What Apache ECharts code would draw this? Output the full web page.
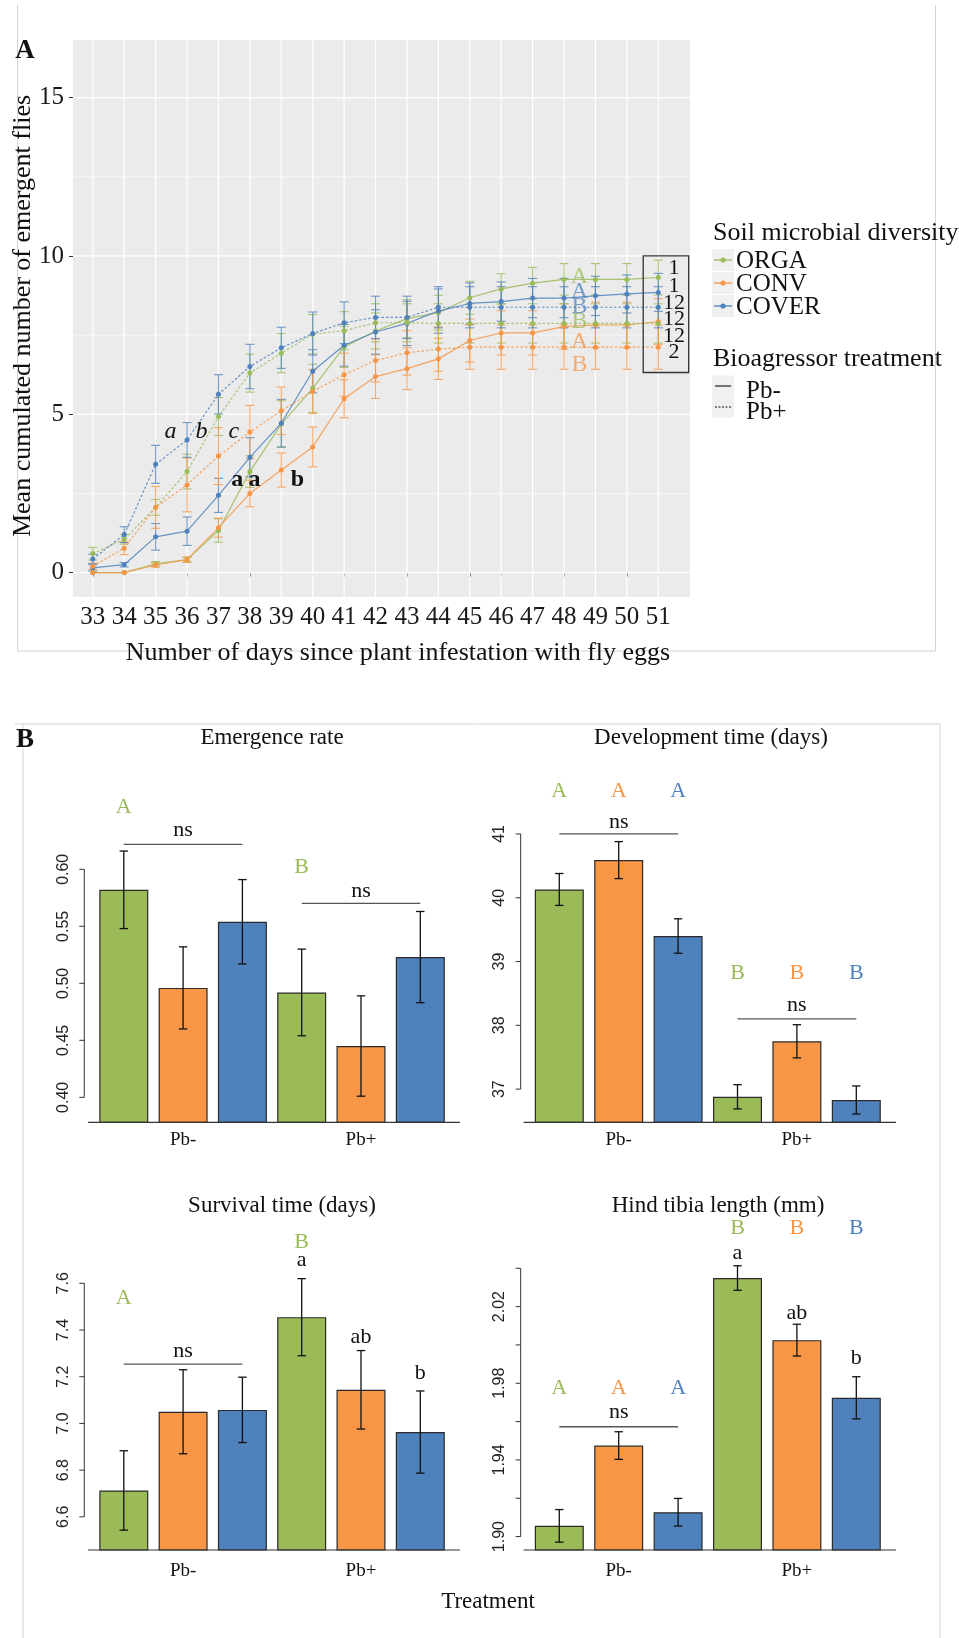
<!DOCTYPE html>
<html><head><meta charset="utf-8">
<script src="https://cdn.jsdelivr.net/npm/echarts@6/dist/echarts.min.js"></script>
<style>html,body{margin:0;padding:0;background:#fff}#c{width:959px;height:1638px}</style>
</head><body><div id="c"></div>
<script>
// ---------------- DATA: panel A (cumulated emergence) ----------------
const days = [33,34,35,36,37,38,39,40,41,42,43,44,45,46,47,48,49,50,51];
const orgaPbMinus  = [0,0,0.28,0.41,1.33,3.19,4.69,5.82,7.13,7.63,8.02,8.21,8.68,8.96,9.14,9.26,9.26,9.26,9.32];
const convPbMinus  = [0,0,0.24,0.41,1.42,2.50,3.24,3.97,5.49,6.19,6.44,6.75,7.33,7.57,7.57,7.77,7.82,7.82,7.93];
const coverPbMinus = [0.15,0.25,1.13,1.31,2.44,3.64,4.72,6.36,7.18,7.60,7.87,8.26,8.50,8.56,8.67,8.67,8.74,8.80,8.85];
const orgaPbPlus   = [0.60,1.05,2.06,3.19,4.93,6.30,6.93,7.53,7.64,7.89,7.89,7.87,7.87,7.87,7.87,7.87,7.87,7.87,7.87];
const convPbPlus   = [0.20,0.77,2.06,2.77,3.68,4.44,5.11,5.72,6.25,6.70,6.94,7.06,7.12,7.12,7.12,7.12,7.12,7.12,7.12];
const coverPbPlus  = [0.43,1.20,3.42,4.19,5.63,6.51,7.10,7.55,7.89,8.06,8.06,8.38,8.38,8.38,8.38,8.38,8.38,8.38,8.38];
const orgaPbMinusSE  = [0,0,0.07,0.07,0.37,0.50,0.74,0.76,0.65,0.57,0.60,0.55,0.52,0.48,0.50,0.50,0.50,0.50,0.55];
const convPbMinusSE  = [0,0,0.07,0.09,0.30,0.42,0.54,0.63,0.60,0.69,0.66,0.65,0.68,0.70,0.70,0.72,0.72,0.72,0.72];
const coverPbMinusSE = [0.10,0.07,0.42,0.45,0.54,0.62,0.75,0.68,0.66,0.70,0.70,0.70,0.65,0.62,0.62,0.62,0.62,0.60,0.60];
const orgaPbPlusSE   = [0.20,0.15,0.25,0.55,0.60,0.60,0.62,0.62,0.60,0.60,0.60,0.62,0.62,0.62,0.62,0.62,0.62,0.62,0.62];
const convPbPlusSE   = [0.10,0.20,0.66,0.85,0.90,0.84,0.75,0.70,0.68,0.68,0.70,0.70,0.70,0.70,0.70,0.70,0.70,0.70,0.70];
const coverPbPlusSE  = [0.15,0.25,0.60,0.55,0.62,0.70,0.65,0.68,0.66,0.67,0.67,0.65,0.65,0.65,0.65,0.65,0.65,0.65,0.65];
const yTicksA = [0,5,10,15];
const yMinorA = [2.5,7.5,12.5];

// panel A annotations
const annoLetters = ['a','b','c','a','a','b'];
const annoX = [35.47,36.46,37.49,37.6,38.15,39.51];
const annoY = [4.46,4.46,4.46,2.94,2.94,2.94];
const groupLetters = ['A','A','B','B','A','B'];
const groupLetterSoil = ['orga','cover','cover','orga','conv','conv'];
const groupLetterY = [9.35,8.87,8.40,7.93,7.30,6.58];
const boxLabels = ['1','1','12','12','12','2'];
const boxLabelY = [9.61,9.05,8.50,8.00,7.47,6.97];

// ---------------- DATA: panel B (bar plots) ----------------
const groups = ['Pb-','Pb+'];
const soils = ['orga','conv','cover','orga','conv','cover'];   // bar order
const emergMean = [0.582,0.496,0.554,0.492,0.445,0.523];
const emergSE   = [0.034,0.036,0.037,0.038,0.044,0.040];
const devMean   = [40.13,40.59,39.40,36.88,37.75,36.83];
const devSE     = [0.25,0.29,0.27,0.19,0.26,0.22];
const survMean  = [6.713,7.050,7.058,7.455,7.144,6.963];
const survSE    = [0.170,0.180,0.140,0.165,0.168,0.176];
const tibiaMean = [1.9056,1.9475,1.9127,2.0349,2.0025,1.9724];
const tibiaSE   = [0.0085,0.0072,0.0072,0.0064,0.0083,0.0110];
const emergTicks = [0.40,0.45,0.50,0.55,0.60];
const devTicks   = [37,38,39,40,41];
const survTicks  = [6.6,6.8,7.0,7.2,7.4,7.6];
const tibiaTicks = [1.90,1.92,1.94,1.96,1.98,2.00,2.02,2.04];
const tibiaLabels = [1.90,1.94,1.98,2.02];
// annotations: [text, barIndex, value, colour key]
const emergAnno = [['A',0,0.6544,'orga'],['ns',1,0.6345,'k'],['B',3,0.6018,'orga'],['ns',4,0.5804,'k']];
const emergNs = [[0,2,0.6219],[3,5,0.5702]];
const devAnno = [['A',0,41.67,'orga'],['A',1,41.67,'conv'],['A',2,41.67,'cover'],['ns',1,41.18,'k'],
                 ['B',3,38.82,'orga'],['B',4,38.82,'conv'],['B',5,38.82,'cover'],['ns',4,38.32,'k']];
const devNs = [[0,2,41.0],[3,5,38.10]];
const survAnno = [['A',0,7.536,'orga'],['ns',1,7.31,'k'],['B',3,7.774,'orga'],['a',3,7.70,'k'],['ab',4,7.371,'k'],['b',5,7.215,'k']];
const survNs = [[0,2,7.254]];
const tibiaAnno = [['B',3,2.0609,'orga'],['B',4,2.0609,'conv'],['B',5,2.0609,'cover'],['a',3,2.0481,'k'],['ab',4,2.0165,'k'],['b',5,1.9933,'k'],
                   ['A',0,1.9773,'orga'],['A',1,1.9773,'conv'],['A',2,1.9773,'cover'],['ns',1,1.9651,'k']];
const tibiaNs = [[0,2,1.9573]];

// ---------------- STYLE ----------------
const COL = {orga:'#9BBB59', conv:'#F79646', cover:'#4F81BD', k:'#111111'};
const SERIF = "'Liberation Serif','Times New Roman',serif";
const SANS = "'Liberation Sans',Arial,sans-serif";

const chart = echarts.init(document.getElementById('c'), null, {renderer:'canvas'});

const grids = [
  {left:73, top:40, width:617, height:557, show:true, backgroundColor:'#EBEBEB', borderWidth:0},
  {left:94.15, top:846.5, width:355.8, height:275.8},
  {left:529.6, top:821.2, width:356.4, height:301.1},
  {left:94.15, top:1259.95, width:355.8, height:290.05},
  {left:529.6, top:1249.1, width:356.4, height:300.9}
];

const xAxes = [{
  gridIndex:0, type:'value', min:32.37, max:52.01,
  axisLine:{show:false}, splitLine:{show:false},
  axisTick:{show:true, customValues:days, length:4, lineStyle:{color:'#333', width:1}},
  axisLabel:{customValues:days, fontFamily:SERIF, fontSize:25, color:'#1a1a1a', margin:8}
}];
const yAxes = [{
  gridIndex:0, type:'value', min:-0.77, max:16.82,
  axisLine:{show:false}, splitLine:{show:false},
  axisTick:{show:true, customValues:yTicksA, length:4, lineStyle:{color:'#333', width:1}},
  axisLabel:{customValues:yTicksA, fontFamily:SERIF, fontSize:25, color:'#1a1a1a', margin:9}
}];

const panelsB = [
  {mean:emergMean, se:emergSE, min:0.3781, max:0.62, ticks:emergTicks, labels:emergTicks, dec:2, off:9.85, lm:8, anno:emergAnno, ns:emergNs},
  {mean:devMean, se:devSE, min:36.48, max:41.2, ticks:devTicks, labels:devTicks, dec:0, off:8.9, lm:8, anno:devAnno, ns:devNs},
  {mean:survMean, se:survSE, min:6.458, max:7.7, ticks:survTicks, labels:survTicks, dec:1, off:9.85, lm:12, anno:survAnno, ns:survNs},
  {mean:tibiaMean, se:tibiaSE, min:1.893, max:2.05, ticks:tibiaTicks, labels:tibiaLabels, dec:2, off:8.9, lm:12, anno:tibiaAnno, ns:tibiaNs}
];

panelsB.forEach((p,k)=>{
  const gi = k+1;
  xAxes.push({gridIndex:gi, type:'value', min:-0.5, max:5.5,
    axisLine:{show:false}, axisTick:{show:false}, splitLine:{show:false},
    axisLabel:{customValues:[1,4], formatter:(v)=> v<2.5 ? groups[0] : groups[1],
      fontFamily:SERIF, fontSize:19, color:'#111', margin:p.lm}});
  yAxes.push({gridIndex:gi, type:'value', min:p.min, max:p.max, offset:p.off,
    axisLine:{show:false}, splitLine:{show:false}, axisTick:{show:false},
    axisLabel:{customValues:p.labels, rotate:90, formatter:(v)=>Number(v).toFixed(p.dec),
      fontFamily:SANS, fontSize:16, color:'#222', margin:13}});
});

const series = [];

// gridlines panel A
series.push({type:'custom', xAxisIndex:0, yAxisIndex:0, z:1, silent:true,
  data: days.map(d=>[d, 0]),
  renderItem(params, api){
    const cs = params.coordSys; const x = api.coord([api.value(0), 0])[0];
    return {type:'line', shape:{x1:x, y1:cs.y, x2:x, y2:cs.y+cs.height}, style:{stroke:'#ffffff', lineWidth:1.2}};
  }});
series.push({type:'custom', xAxisIndex:0, yAxisIndex:0, z:1, silent:true,
  data: yTicksA.map(v=>[33, v]).concat(yMinorA.map(v=>[33, v])),
  renderItem(params, api){
    const cs = params.coordSys; const y = api.coord([33, api.value(1)])[1];
    const major = params.dataIndex < yTicksA.length;
    return {type:'line', shape:{x1:cs.x, y1:y, x2:cs.x+cs.width, y2:y}, style:{stroke:'#ffffff', lineWidth: major?1.2:0.6}};
  }});

// panel A series
const lineDefs = [
  ['ORGA Pb-', orgaPbMinus, orgaPbMinusSE, 'orga', 'solid'],
  ['CONV Pb-', convPbMinus, convPbMinusSE, 'conv', 'solid'],
  ['COVER Pb-', coverPbMinus, coverPbMinusSE, 'cover', 'solid'],
  ['ORGA Pb+', orgaPbPlus, orgaPbPlusSE, 'orga', 'dash'],
  ['CONV Pb+', convPbPlus, convPbPlusSE, 'conv', 'dash'],
  ['COVER Pb+', coverPbPlus, coverPbPlusSE, 'cover', 'dash']
];
lineDefs.forEach(([name, m, se, soil, lt])=>{
  const color = COL[soil];
  series.push({type:'custom', name:name+' se', xAxisIndex:0, yAxisIndex:0, z:3, silent:true,
    data: days.map((d,i)=>[d, m[i]-se[i], m[i]+se[i]]),
    renderItem(params, api){
      const x = api.value(0);
      const p1 = api.coord([x, api.value(1)]), p2 = api.coord([x, api.value(2)]);
      if (Math.abs(p1[1]-p2[1]) < 0.5) return null;
      const w = 4.5, st = {stroke:color, lineWidth:1.1, opacity:0.8};
      return {type:'group', children:[
        {type:'line', shape:{x1:p1[0], y1:p1[1], x2:p2[0], y2:p2[1]}, style:st},
        {type:'line', shape:{x1:p1[0]-w, y1:p1[1], x2:p1[0]+w, y2:p1[1]}, style:st},
        {type:'line', shape:{x1:p2[0]-w, y1:p2[1], x2:p2[0]+w, y2:p2[1]}, style:st}
      ]};
    }});
  series.push({type:'line', name, xAxisIndex:0, yAxisIndex:0, z:4,
    data: days.map((d,i)=>[d, m[i]]), symbol:'circle', symbolSize:5, showSymbol:true,
    lineStyle:{color, width:1.2, opacity:0.85, type: lt==='solid' ? 'solid' : [2.5,2]},
    itemStyle:{color, borderWidth:0}});
});

// panel A annotations
function textSeries(xi, yi, xs, ys, texts, colors, sizes, styles, weights, opac){
  return {type:'custom', xAxisIndex:xi, yAxisIndex:yi, z:6, silent:true,
    data: xs.map((x,i)=>[x, ys[i]]),
    renderItem(params, api){
      const i = params.dataIndex; const p = api.coord([api.value(0), api.value(1)]);
      return {type:'text', x:p[0], y:p[1], style:{text:texts[i], fill:colors[i], fontFamily:SERIF,
        fontSize:sizes[i], fontStyle:styles[i], fontWeight:weights[i], align:'center', verticalAlign:'middle', opacity:opac}};
    }};
}
series.push(textSeries(0,0, annoX, annoY, annoLetters, annoLetters.map(()=> '#111'),
  annoLetters.map(()=>24), annoLetters.map((t,i)=> i<3?'italic':'normal'), annoLetters.map((t,i)=> i<3?'normal':'bold'), 1));
series.push(textSeries(0,0, groupLetters.map(()=>48.49), groupLetterY, groupLetters, groupLetterSoil.map(s=>COL[s]),
  groupLetters.map(()=>24), groupLetters.map(()=>'normal'), groupLetters.map(()=>'normal'), 0.75));
series.push(textSeries(0,0, boxLabels.map(()=>51.5), boxLabelY, boxLabels, boxLabels.map(()=>'#111'),
  boxLabels.map(()=>22), boxLabels.map(()=>'normal'), boxLabels.map(()=>'normal'), 1));
// box around the labels
series.push({type:'custom', xAxisIndex:0, yAxisIndex:0, z:5, silent:true,
  data:[[50.52, 10.0, 52.0, 6.32]],
  renderItem(params, api){
    const a = api.coord([api.value(0), api.value(1)]), b = api.coord([api.value(2), api.value(3)]);
    return {type:'rect', shape:{x:a[0], y:a[1], width:b[0]-a[0]-1, height:b[1]-a[1]}, style:{fill:'none', stroke:'#333', lineWidth:1.3}};
  }});

// panel B series
panelsB.forEach((p,k)=>{
  const gi = k+1;
  // bars
  series.push({type:'bar', xAxisIndex:gi, yAxisIndex:gi, z:2, barWidth:49,
    data: p.mean.map((v,i)=>({value:[i, v], itemStyle:{color:COL[soils[i]]}})),
    itemStyle:{borderColor:'#2a2a2a', borderWidth:1.2}});
  // axis line (first to last tick), ticks and baseline
  series.push({type:'custom', xAxisIndex:gi, yAxisIndex:gi, z:3, silent:true,
    data:[[0, p.ticks[0]]],
    renderItem(params, api){
      const cs = params.coordSys; const ax = cs.x - p.off;
      const y1 = api.coord([0, p.ticks[0]])[1], y2 = api.coord([0, p.ticks[p.ticks.length-1]])[1];
      const yb = cs.y + cs.height;
      const st = {stroke:'#333', lineWidth:1};
      const children = [
        {type:'line', shape:{x1:ax, y1:y1, x2:ax, y2:y2}, style:st},
        {type:'line', shape:{x1:cs.x-6, y1:yb, x2:cs.x+cs.width+10, y2:yb}, style:{stroke:'#333', lineWidth:1.2}}
      ];
      p.ticks.forEach(t=>{
        const y = api.coord([0, t])[1];
        children.push({type:'line', shape:{x1:ax-5, y1:y, x2:ax, y2:y}, style:st});
      });
      return {type:'group', children};
    }});
  // error bars
  series.push({type:'custom', xAxisIndex:gi, yAxisIndex:gi, z:4, silent:true,
    data: p.mean.map((v,i)=>[i, v-p.se[i], v+p.se[i]]),
    renderItem(params, api){
      const x = api.value(0);
      const a = api.coord([x, api.value(1)]), b = api.coord([x, api.value(2)]);
      const w = 4.2, st = {stroke:'#111', lineWidth:1.3};
      return {type:'group', children:[
        {type:'line', shape:{x1:a[0], y1:a[1], x2:b[0], y2:b[1]}, style:st},
        {type:'line', shape:{x1:a[0]-w, y1:a[1], x2:a[0]+w, y2:a[1]}, style:st},
        {type:'line', shape:{x1:b[0]-w, y1:b[1], x2:b[0]+w, y2:b[1]}, style:st}
      ]};
    }});
  // ns lines
  series.push({type:'custom', xAxisIndex:gi, yAxisIndex:gi, z:4, silent:true,
    data: p.ns.map(r=>[r[0], r[2], r[1]]),
    renderItem(params, api){
      const a = api.coord([api.value(0), api.value(1)]), b = api.coord([api.value(2), api.value(1)]);
      return {type:'line', shape:{x1:a[0], y1:a[1], x2:b[0], y2:b[1]}, style:{stroke:'#555', lineWidth:1.3}};
    }});
  // annotation text
  series.push(textSeries(gi, gi, p.anno.map(r=>r[1]), p.anno.map(r=>r[2]), p.anno.map(r=>r[0]),
    p.anno.map(r=>COL[r[3]]), p.anno.map(()=>22), p.anno.map(()=>'normal'), p.anno.map(()=>'normal'), 1));
});

// ---------------- graphics: titles, legend, frames ----------------
const FR = '#D4D4D4';
function T(x, y, text, size, opts){
  return Object.assign({type:'text', x, y, silent:true, style:Object.assign({text, fill:'#111', fontFamily:SERIF, fontSize:size,
    align:'center', verticalAlign:'middle'}, opts||{})});
}
function L(x1,y1,x2,y2,stroke,w,dash){
  return {type:'line', silent:true, shape:{x1,y1,x2,y2}, style:{stroke, lineWidth:w, lineDash:dash||null}};
}
const graphics = [
  // frames
  L(17.5, 5, 17.5, 651, FR, 1), L(935.5, 5, 935.5, 651, FR, 1), L(17.5, 651, 935.5, 651, FR, 1),
  L(15, 724, 940, 724, FR, 1), L(23, 724, 23, 1638, FR, 1), L(940, 724, 940, 1638, FR, 1),
  // panel labels
  T(25, 51, 'A', 27, {fontWeight:'bold'}),
  T(25, 740, 'B', 27, {fontWeight:'bold'}),
  // axis titles A
  Object.assign(T(0, 0, 'Mean cumulated number of emergent flies', 26), {x:23.5, y:316, rotation:Math.PI/2}),
  T(398, 653, 'Number of days since plant infestation with fly eggs', 26),
  // legend
  T(713, 233, 'Soil microbial diversity', 26, {align:'left'}),
  T(713, 359, 'Bioagressor treatment', 26, {align:'left'}),
  // panel B titles
  T(272, 738, 'Emergence rate', 23),
  T(711, 738, 'Development time (days)', 23),
  T(282, 1206, 'Survival time (days)', 23),
  T(718, 1206, 'Hind tibia length (mm)', 23),
  T(488, 1602, 'Treatment', 23)
];
// legend keys
const legSoils = ['orga','conv','cover'], legNames = ['ORGA','CONV','COVER'], legY = [260, 283, 306];
legSoils.forEach((s,i)=>{
  graphics.push({type:'rect', silent:true, shape:{x:712, y:legY[i]-11, width:22, height:22}, style:{fill:'#F0F0F0'}});
  graphics.push(L(714, legY[i], 732, legY[i], COL[s], 1.3));
  graphics.push({type:'circle', silent:true, shape:{cx:723, cy:legY[i], r:2.6}, style:{fill:COL[s]}});
  graphics.push(T(736, legY[i]+1, legNames[i], 25, {align:'left'}));
});
const ltY = [386, 407];
groups.forEach((g,i)=>{
  graphics.push({type:'rect', silent:true, shape:{x:712, y:ltY[i]-10.5, width:22, height:21}, style:{fill:'#F0F0F0'}});
  graphics.push(L(715, ltY[i], 731, ltY[i], '#111', 1.1, i===0?null:[2,1.5]));
  graphics.push(T(746, ltY[i]+5, g, 25, {align:'left'}));
});

chart.setOption({
  animation:false,
  backgroundColor:'#ffffff',
  grid:grids, xAxis:xAxes, yAxis:yAxes, series,
  graphic:{elements:graphics}
});
</script></body></html>
